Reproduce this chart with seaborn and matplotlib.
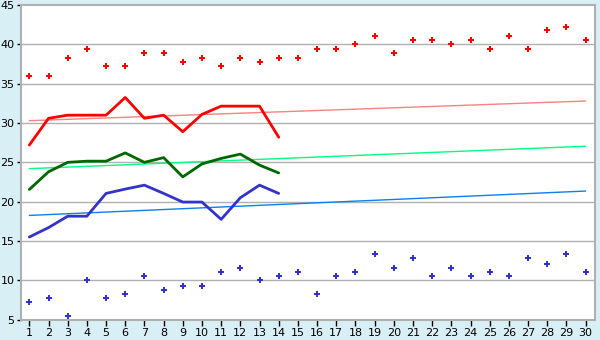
import numpy as np
import pandas as pd
import matplotlib
matplotlib.use("Agg")
import matplotlib.pyplot as plt
import seaborn as sns

# Values
days = list(range(1, 31))
line_days = list(range(1, 15))

red_points = [36.0, 36.0, 38.3, 39.4, 37.2, 37.2, 38.85, 38.85, 37.8, 38.3,
              37.2, 38.3, 37.8, 38.3, 38.3, 39.4, 39.4, 40.0, 41.1, 38.85,
              40.6, 40.6, 40.0, 40.6, 39.4, 41.1, 39.4, 41.8, 42.2, 40.6]
blue_points = [7.2, 7.8, 5.5, 10.0, 7.8, 8.2, 10.6, 8.8, 9.3, 9.3,
               11.1, 11.6, 10.0, 10.6, 11.1, 8.2, 10.6, 11.1, 13.3, 11.6,
               12.8, 10.6, 11.6, 10.6, 11.1, 10.6, 12.8, 12.1, 13.3, 11.1]

red_line = [27.2, 30.6, 31.0, 31.0, 31.0, 33.25, 30.6, 31.0, 28.9, 31.1,
            32.15, 32.15, 32.15, 28.2]
green_line = [21.55, 23.8, 25.0, 25.15, 25.15, 26.2, 25.0, 25.6, 23.15, 24.8,
              25.5, 26.05, 24.65, 23.65]
blue_line = [15.5, 16.7, 18.15, 18.15, 21.05, 21.6, 22.1, 21.05, 19.95, 19.95,
             17.75, 20.5, 22.1, 21.05]

trend_days = [1, 30]
red_trend = [30.3, 32.8]
green_trend = [24.2, 27.05]
blue_trend = [18.25, 21.35]

y_ticks = [5, 10, 15, 20, 25, 30, 35, 40, 45]

sns.set_theme(style="white")
plt.rcParams['font.family'] = ['DejaVu Sans']

bg = '#D9EFF6'
fig = plt.figure(figsize=(6, 3.4), dpi=100, facecolor=bg)
ax = fig.add_axes([0.0345, 0.06, 0.9575, 0.925])
ax.set_facecolor('white')

for y in y_ticks[1:-1]:
    ax.axhline(y, color='#B0B0B0', lw=1, zorder=0)

trends = pd.DataFrame({'day': trend_days, 'red': red_trend,
                       'green': green_trend, 'blue': blue_trend})
sns.lineplot(data=trends, x='day', y='red', color='#FF8080', lw=1, ax=ax)
sns.lineplot(data=trends, x='day', y='green', color='#00FF7F', lw=1, ax=ax)
sns.lineplot(data=trends, x='day', y='blue', color='#0A80F0', lw=1, ax=ax)

lines = pd.DataFrame({'day': line_days, 'red': red_line,
                      'green': green_line, 'blue': blue_line})
sns.lineplot(data=lines, x='day', y='red', color='#FF0000', lw=2, ax=ax)
sns.lineplot(data=lines, x='day', y='green', color='#006600', lw=2, ax=ax)
sns.lineplot(data=lines, x='day', y='blue', color='#3333CC', lw=2, ax=ax)

pts = pd.DataFrame({'day': days, 'red': red_points, 'blue': blue_points})
sns.scatterplot(data=pts, x='day', y='red', color='#FF0000', marker='P',
                s=20, linewidth=0, ax=ax, zorder=5)
sns.scatterplot(data=pts, x='day', y='blue', color='#3333CC', marker='P',
                s=20, linewidth=0, ax=ax, zorder=5)

ax.set_xlim(0.55, 30.5)
ax.set_ylim(5, 45)
ax.set_xticks(days)
ax.set_yticks(y_ticks)
ax.set_xlabel('')
ax.set_ylabel('')
ax.tick_params(axis='both', labelsize=8, length=3, width=1, color='black',
               direction='out', pad=1.5, colors='black')
ax.tick_params(axis='x', bottom=True, length=4, pad=2)
ax.tick_params(axis='y', left=True)
for side in ['left', 'bottom', 'right', 'top']:
    ax.spines[side].set_color('#B0B0B0')
    ax.spines[side].set_linewidth(1.5)

fig.savefig('out.png', dpi=100, facecolor=bg)
